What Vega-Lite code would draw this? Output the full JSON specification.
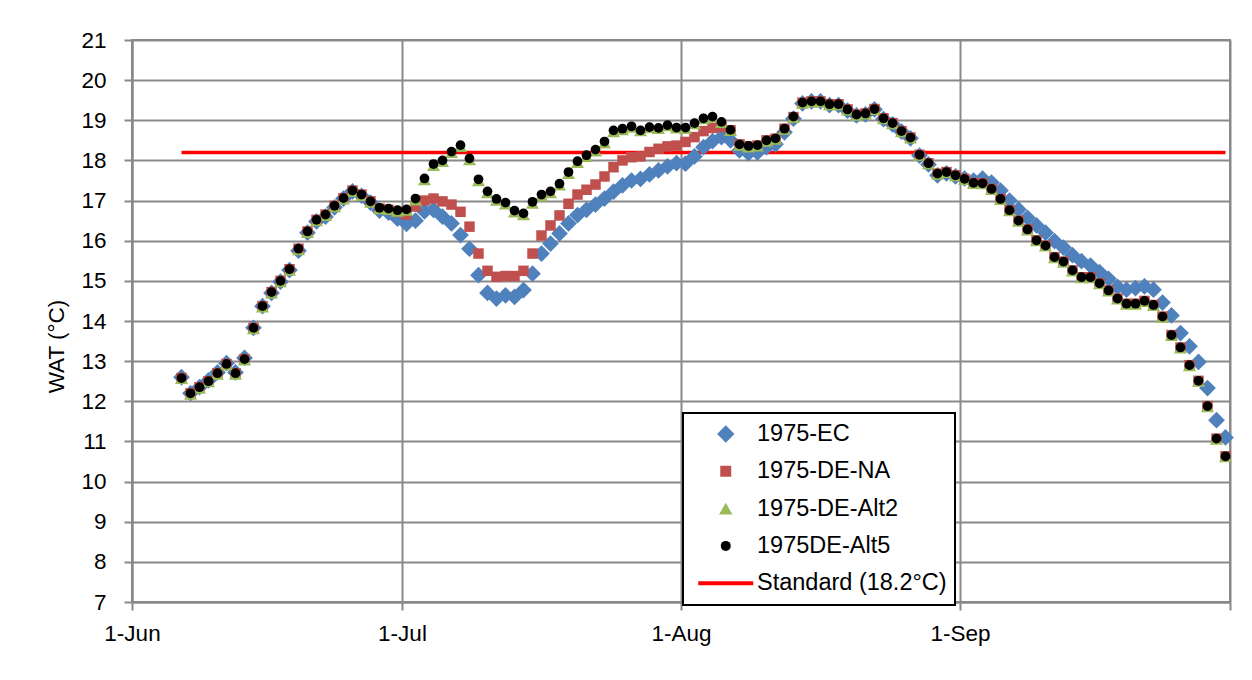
{
"$schema": "https://vega.github.io/schema/vega-lite/v6.json",
"width": 1098, "height": 562,
"autosize": {"type": "none"},
"padding": {"left": 132, "top": 40, "right": 22, "bottom": 78},
"background": "white",
"config": {"font": "Liberation Sans", "view": {"stroke": "#898989", "strokeWidth": 2}},
"data": {"values": [
{"d":"1975-06-06T12:00","ec":12.6,"na":12.58,"alt2":12.57,"alt5":12.58},
{"d":"1975-06-07T12:00","ec":12.2,"na":12.2,"alt2":12.18,"alt5":12.2},
{"d":"1975-06-08T12:00","ec":12.35,"na":12.35,"alt2":12.33,"alt5":12.35},
{"d":"1975-06-09T12:00","ec":12.52,"na":12.5,"alt2":12.49,"alt5":12.5},
{"d":"1975-06-10T12:00","ec":12.72,"na":12.7,"alt2":12.68,"alt5":12.7},
{"d":"1975-06-11T12:00","ec":12.95,"na":12.93,"alt2":12.91,"alt5":12.93},
{"d":"1975-06-12T12:00","ec":12.72,"na":12.7,"alt2":12.68,"alt5":12.7},
{"d":"1975-06-13T12:00","ec":13.08,"na":13.05,"alt2":13.03,"alt5":13.05},
{"d":"1975-06-14T12:00","ec":13.83,"na":13.83,"alt2":13.81,"alt5":13.83},
{"d":"1975-06-15T12:00","ec":14.37,"na":14.37,"alt2":14.35,"alt5":14.37},
{"d":"1975-06-16T12:00","ec":14.7,"na":14.72,"alt2":14.7,"alt5":14.72},
{"d":"1975-06-17T12:00","ec":14.98,"na":15.0,"alt2":14.98,"alt5":15.0},
{"d":"1975-06-18T12:00","ec":15.27,"na":15.29,"alt2":15.27,"alt5":15.29},
{"d":"1975-06-19T12:00","ec":15.75,"na":15.8,"alt2":15.78,"alt5":15.8},
{"d":"1975-06-20T12:00","ec":16.2,"na":16.23,"alt2":16.21,"alt5":16.23},
{"d":"1975-06-21T12:00","ec":16.48,"na":16.52,"alt2":16.5,"alt5":16.52},
{"d":"1975-06-22T12:00","ec":16.6,"na":16.65,"alt2":16.63,"alt5":16.65},
{"d":"1975-06-23T12:00","ec":16.83,"na":16.87,"alt2":16.85,"alt5":16.87},
{"d":"1975-06-24T12:00","ec":17.05,"na":17.06,"alt2":17.04,"alt5":17.06},
{"d":"1975-06-25T12:00","ec":17.23,"na":17.25,"alt2":17.23,"alt5":17.25},
{"d":"1975-06-26T12:00","ec":17.12,"na":17.15,"alt2":17.13,"alt5":17.15},
{"d":"1975-06-27T12:00","ec":16.95,"na":16.98,"alt2":16.96,"alt5":16.98},
{"d":"1975-06-28T12:00","ec":16.75,"na":16.8,"alt2":16.8,"alt5":16.82},
{"d":"1975-06-29T12:00","ec":16.7,"na":16.77,"alt2":16.78,"alt5":16.8},
{"d":"1975-06-30T12:00","ec":16.55,"na":16.72,"alt2":16.74,"alt5":16.76},
{"d":"1975-07-01T12:00","ec":16.42,"na":16.65,"alt2":16.76,"alt5":16.78},
{"d":"1975-07-02T12:00","ec":16.5,"na":16.85,"alt2":17.02,"alt5":17.05},
{"d":"1975-07-03T12:00","ec":16.73,"na":17.0,"alt2":17.52,"alt5":17.55},
{"d":"1975-07-04T12:00","ec":16.77,"na":17.05,"alt2":17.88,"alt5":17.91},
{"d":"1975-07-05T12:00","ec":16.6,"na":16.98,"alt2":17.98,"alt5":18.0},
{"d":"1975-07-06T12:00","ec":16.43,"na":16.9,"alt2":18.2,"alt5":18.22},
{"d":"1975-07-07T12:00","ec":16.14,"na":16.72,"alt2":18.35,"alt5":18.38},
{"d":"1975-07-08T12:00","ec":15.8,"na":16.35,"alt2":18.02,"alt5":18.05},
{"d":"1975-07-09T12:00","ec":15.14,"na":15.68,"alt2":17.5,"alt5":17.53},
{"d":"1975-07-10T12:00","ec":14.7,"na":15.25,"alt2":17.2,"alt5":17.23},
{"d":"1975-07-11T12:00","ec":14.56,"na":15.1,"alt2":17.01,"alt5":17.04},
{"d":"1975-07-12T12:00","ec":14.64,"na":15.12,"alt2":16.92,"alt5":16.95},
{"d":"1975-07-13T12:00","ec":14.6,"na":15.12,"alt2":16.72,"alt5":16.75},
{"d":"1975-07-14T12:00","ec":14.77,"na":15.25,"alt2":16.65,"alt5":16.68},
{"d":"1975-07-15T12:00","ec":15.18,"na":15.68,"alt2":16.94,"alt5":16.97},
{"d":"1975-07-16T12:00","ec":15.68,"na":16.13,"alt2":17.12,"alt5":17.15},
{"d":"1975-07-17T12:00","ec":15.93,"na":16.38,"alt2":17.2,"alt5":17.23},
{"d":"1975-07-18T12:00","ec":16.18,"na":16.63,"alt2":17.39,"alt5":17.42},
{"d":"1975-07-19T12:00","ec":16.43,"na":16.92,"alt2":17.68,"alt5":17.71},
{"d":"1975-07-20T12:00","ec":16.64,"na":17.15,"alt2":17.95,"alt5":17.98},
{"d":"1975-07-21T12:00","ec":16.77,"na":17.27,"alt2":18.1,"alt5":18.13},
{"d":"1975-07-22T12:00","ec":16.9,"na":17.4,"alt2":18.24,"alt5":18.27},
{"d":"1975-07-23T12:00","ec":17.05,"na":17.6,"alt2":18.44,"alt5":18.47},
{"d":"1975-07-24T12:00","ec":17.22,"na":17.83,"alt2":18.72,"alt5":18.75},
{"d":"1975-07-25T12:00","ec":17.38,"na":18.0,"alt2":18.77,"alt5":18.79},
{"d":"1975-07-26T12:00","ec":17.5,"na":18.08,"alt2":18.83,"alt5":18.85},
{"d":"1975-07-27T12:00","ec":17.54,"na":18.1,"alt2":18.74,"alt5":18.75},
{"d":"1975-07-28T12:00","ec":17.65,"na":18.21,"alt2":18.82,"alt5":18.83},
{"d":"1975-07-29T12:00","ec":17.75,"na":18.29,"alt2":18.8,"alt5":18.81},
{"d":"1975-07-30T12:00","ec":17.85,"na":18.35,"alt2":18.87,"alt5":18.88},
{"d":"1975-07-31T12:00","ec":17.93,"na":18.37,"alt2":18.81,"alt5":18.82},
{"d":"1975-08-01T12:00","ec":17.92,"na":18.46,"alt2":18.8,"alt5":18.82},
{"d":"1975-08-02T12:00","ec":18.1,"na":18.58,"alt2":18.92,"alt5":18.93},
{"d":"1975-08-03T12:00","ec":18.33,"na":18.73,"alt2":19.04,"alt5":19.05},
{"d":"1975-08-04T12:00","ec":18.48,"na":18.81,"alt2":19.08,"alt5":19.09},
{"d":"1975-08-05T12:00","ec":18.58,"na":18.83,"alt2":18.95,"alt5":18.96},
{"d":"1975-08-06T12:00","ec":18.5,"na":18.75,"alt2":18.75,"alt5":18.76},
{"d":"1975-08-07T12:00","ec":18.25,"na":18.4,"alt2":18.38,"alt5":18.4},
{"d":"1975-08-08T12:00","ec":18.18,"na":18.35,"alt2":18.34,"alt5":18.36},
{"d":"1975-08-09T12:00","ec":18.2,"na":18.37,"alt2":18.36,"alt5":18.38},
{"d":"1975-08-10T12:00","ec":18.33,"na":18.5,"alt2":18.48,"alt5":18.5},
{"d":"1975-08-11T12:00","ec":18.4,"na":18.54,"alt2":18.53,"alt5":18.55},
{"d":"1975-08-12T12:00","ec":18.7,"na":18.79,"alt2":18.78,"alt5":18.79},
{"d":"1975-08-13T12:00","ec":19.04,"na":19.08,"alt2":19.07,"alt5":19.09},
{"d":"1975-08-14T12:00","ec":19.42,"na":19.44,"alt2":19.43,"alt5":19.44},
{"d":"1975-08-15T12:00","ec":19.47,"na":19.47,"alt2":19.46,"alt5":19.47},
{"d":"1975-08-16T12:00","ec":19.47,"na":19.47,"alt2":19.46,"alt5":19.47},
{"d":"1975-08-17T12:00","ec":19.38,"na":19.4,"alt2":19.39,"alt5":19.4},
{"d":"1975-08-18T12:00","ec":19.38,"na":19.4,"alt2":19.39,"alt5":19.4},
{"d":"1975-08-19T12:00","ec":19.24,"na":19.27,"alt2":19.26,"alt5":19.27},
{"d":"1975-08-20T12:00","ec":19.12,"na":19.14,"alt2":19.13,"alt5":19.14},
{"d":"1975-08-21T12:00","ec":19.15,"na":19.17,"alt2":19.16,"alt5":19.17},
{"d":"1975-08-22T12:00","ec":19.27,"na":19.28,"alt2":19.27,"alt5":19.28},
{"d":"1975-08-23T12:00","ec":19.03,"na":19.05,"alt2":19.04,"alt5":19.05},
{"d":"1975-08-24T12:00","ec":18.9,"na":18.93,"alt2":18.92,"alt5":18.93},
{"d":"1975-08-25T12:00","ec":18.72,"na":18.73,"alt2":18.72,"alt5":18.73},
{"d":"1975-08-26T12:00","ec":18.55,"na":18.57,"alt2":18.56,"alt5":18.57},
{"d":"1975-08-27T12:00","ec":18.12,"na":18.14,"alt2":18.13,"alt5":18.14},
{"d":"1975-08-28T12:00","ec":17.9,"na":17.93,"alt2":17.92,"alt5":17.93},
{"d":"1975-08-29T12:00","ec":17.63,"na":17.67,"alt2":17.66,"alt5":17.67},
{"d":"1975-08-30T12:00","ec":17.68,"na":17.71,"alt2":17.7,"alt5":17.71},
{"d":"1975-08-31T12:00","ec":17.6,"na":17.63,"alt2":17.62,"alt5":17.63},
{"d":"1975-09-01T12:00","ec":17.55,"na":17.54,"alt2":17.53,"alt5":17.54},
{"d":"1975-09-02T12:00","ec":17.5,"na":17.44,"alt2":17.43,"alt5":17.44},
{"d":"1975-09-03T12:00","ec":17.55,"na":17.43,"alt2":17.42,"alt5":17.43},
{"d":"1975-09-04T12:00","ec":17.45,"na":17.29,"alt2":17.28,"alt5":17.29},
{"d":"1975-09-05T12:00","ec":17.25,"na":17.04,"alt2":17.03,"alt5":17.04},
{"d":"1975-09-06T12:00","ec":17.0,"na":16.76,"alt2":16.75,"alt5":16.76},
{"d":"1975-09-07T12:00","ec":16.78,"na":16.5,"alt2":16.49,"alt5":16.5},
{"d":"1975-09-08T12:00","ec":16.57,"na":16.28,"alt2":16.27,"alt5":16.28},
{"d":"1975-09-09T12:00","ec":16.38,"na":16.01,"alt2":16.0,"alt5":16.01},
{"d":"1975-09-10T12:00","ec":16.2,"na":15.88,"alt2":15.87,"alt5":15.88},
{"d":"1975-09-11T12:00","ec":15.99,"na":15.59,"alt2":15.58,"alt5":15.59},
{"d":"1975-09-12T12:00","ec":15.83,"na":15.48,"alt2":15.47,"alt5":15.48},
{"d":"1975-09-13T12:00","ec":15.64,"na":15.26,"alt2":15.25,"alt5":15.26},
{"d":"1975-09-14T12:00","ec":15.49,"na":15.09,"alt2":15.08,"alt5":15.09},
{"d":"1975-09-15T12:00","ec":15.38,"na":15.09,"alt2":15.08,"alt5":15.09},
{"d":"1975-09-16T12:00","ec":15.22,"na":14.94,"alt2":14.93,"alt5":14.94},
{"d":"1975-09-17T12:00","ec":15.05,"na":14.76,"alt2":14.75,"alt5":14.76},
{"d":"1975-09-18T12:00","ec":14.85,"na":14.56,"alt2":14.55,"alt5":14.56},
{"d":"1975-09-19T12:00","ec":14.78,"na":14.43,"alt2":14.42,"alt5":14.43},
{"d":"1975-09-20T12:00","ec":14.82,"na":14.43,"alt2":14.42,"alt5":14.43},
{"d":"1975-09-21T12:00","ec":14.86,"na":14.5,"alt2":14.49,"alt5":14.5},
{"d":"1975-09-22T12:00","ec":14.78,"na":14.4,"alt2":14.39,"alt5":14.4},
{"d":"1975-09-23T12:00","ec":14.46,"na":14.11,"alt2":14.1,"alt5":14.11},
{"d":"1975-09-24T12:00","ec":14.14,"na":13.65,"alt2":13.64,"alt5":13.65},
{"d":"1975-09-25T12:00","ec":13.7,"na":13.34,"alt2":13.33,"alt5":13.34},
{"d":"1975-09-26T12:00","ec":13.37,"na":12.9,"alt2":12.89,"alt5":12.9},
{"d":"1975-09-27T12:00","ec":12.98,"na":12.51,"alt2":12.5,"alt5":12.51},
{"d":"1975-09-28T12:00","ec":12.33,"na":11.88,"alt2":11.87,"alt5":11.88},
{"d":"1975-09-29T12:00","ec":11.53,"na":11.07,"alt2":11.06,"alt5":11.07},
{"d":"1975-09-30T12:00","ec":11.1,"na":10.63,"alt2":10.62,"alt5":10.63}
]},
"encoding": {
  "x": {"field": "d", "type": "temporal",
    "scale": {"domain": [{"year":1975,"month":6,"date":1},{"year":1975,"month":10,"date":1}]},
    "axis": {"title": null,
      "values": [{"year":1975,"month":6,"date":1},{"year":1975,"month":7,"date":1},{"year":1975,"month":8,"date":1},{"year":1975,"month":9,"date":1},{"year":1975,"month":10,"date":1}],
      "format": "%-d-%b", "labelExpr": "month(datum.value) == 9 ? '' : datum.label",
      "grid": true, "gridColor": "#898989", "gridWidth": 2,
      "domainColor": "#898989", "domainWidth": 2, "tickColor": "#898989", "tickWidth": 2, "tickSize": 8,
      "labelPadding": 12, "labelFontSize": 22.5, "labelColor": "black", "labelFlush": false, "labelOverlap": false}}
},
"layer": [
  {"mark": {"type": "line", "strokeWidth": 3.5},
   "encoding": {
     "y": {"datum": 18.2, "type": "quantitative", "title": "WAT (°C)", "scale": {"domain": [7, 21], "nice": false}},
     "color": {"datum": "Standard (18.2°C)", "type": "nominal",
       "scale": {"domain": ["1975-EC","1975-DE-NA","1975-DE-Alt2","1975DE-Alt5","Standard (18.2°C)"], "range": ["#4F81BD","#C0504D","#9BBB59","#000000","#FF0000"]},
       "legend": {"title": null, "orient": "none", "legendX": 551, "legendY": 373, "direction": "vertical",
         "padding": 8, "strokeColor": "black", "fillColor": "white",
         "clipHeight": 26, "rowPadding": 11.3, "labelFontSize": 23.5, "labelOffset": 19.5, "symbolOffset": 23,
         "labelLimit": 400, "labelColor": "black",
         "encode": {
           "legend": {"update": {"strokeWidth": {"value": 2}}},
           "symbols": {"update": {
             "size": {"signal": "datum.value === 'Standard (18.2°C)' ? 3025 : datum.value === '1975-EC' ? 300 : datum.value === '1975-DE-NA' ? 120 : datum.value === '1975-DE-Alt2' ? 180 : 100"},
             "strokeWidth": {"signal": "datum.value === 'Standard (18.2°C)' ? 4 : 0"},
             "stroke": {"value": "#FF0000"},
             "fill": {"scale": "color", "field": "value"},
             "opacity": {"value": 1}}}}}}
   }},
  {"mark": {"type": "point", "filled": true, "opacity": 1, "size": 280},
   "encoding": {
     "y": {"field": "ec", "type": "quantitative", "title": "WAT (°C)",
       "scale": {"domain": [7, 21], "nice": false},
       "axis": {"values": [7,8,9,10,11,12,13,14,15,16,17,18,19,20,21], "grid": true, "gridColor": "#898989", "gridWidth": 2,
         "domainColor": "#898989", "domainWidth": 2, "tickColor": "#898989", "tickWidth": 2, "tickSize": 8,
         "labelPadding": 18, "labelFontSize": 22.5, "labelColor": "black",
         "titleFontSize": 22.5, "titleFontWeight": "normal", "titleColor": "black", "titleX": -64, "titleY": 306}},
     "color": {"datum": "1975-EC", "type": "nominal"},
     "shape": {"datum": "1975-EC", "type": "nominal",
       "scale": {"domain": ["1975-EC","1975-DE-NA","1975-DE-Alt2","1975DE-Alt5","Standard (18.2°C)"], "range": ["diamond","square","triangle-up","circle","stroke"]}}
   }},
  {"mark": {"type": "point", "filled": true, "opacity": 1, "size": 110},
   "encoding": {
     "y": {"field": "na", "type": "quantitative", "title": "WAT (°C)"},
     "color": {"datum": "1975-DE-NA", "type": "nominal"},
     "shape": {"datum": "1975-DE-NA", "type": "nominal"}
   }},
  {"mark": {"type": "point", "filled": true, "opacity": 1, "size": 170},
   "encoding": {
     "y": {"field": "alt2", "type": "quantitative", "title": "WAT (°C)"},
     "color": {"datum": "1975-DE-Alt2", "type": "nominal"},
     "shape": {"datum": "1975-DE-Alt2", "type": "nominal"}
   }},
  {"mark": {"type": "point", "filled": true, "opacity": 1, "size": 95},
   "encoding": {
     "y": {"field": "alt5", "type": "quantitative", "title": "WAT (°C)"},
     "color": {"datum": "1975DE-Alt5", "type": "nominal"},
     "shape": {"datum": "1975DE-Alt5", "type": "nominal"}
   }}
]
}
